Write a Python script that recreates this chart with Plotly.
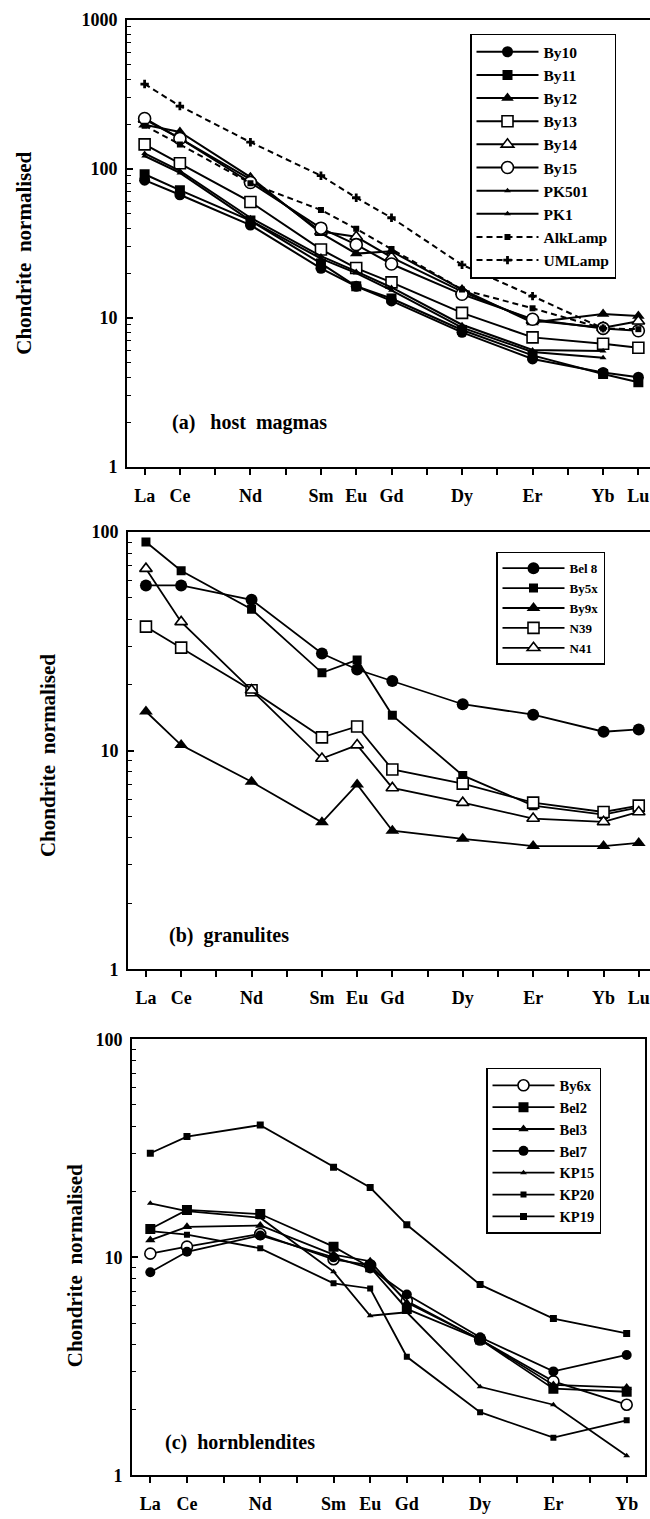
import plotly.graph_objects as go

# ---------------- data ----------------
REE_ALL = ["La", "Ce", "Pr", "Nd", "Pm", "Sm", "Eu", "Gd", "Tb", "Dy", "Ho", "Er", "Tm", "Yb", "Lu"]
ELEM_AB = ["La", "Ce", "Nd", "Sm", "Eu", "Gd", "Dy", "Er", "Yb", "Lu"]
ELEM_C = ["La", "Ce", "Nd", "Sm", "Eu", "Gd", "Dy", "Er", "Yb"]

# (a) host magmas
By10 = [84, 67, 42, 21.5, 16.3, 13.0, 8.0, 5.3, 4.3, 4.0]
By11 = [92, 72, 45, 23.2, 16.3, 13.5, 8.3, 5.6, 4.2, 3.7]
By12 = [198, 177, 88, 37, 27, 28, 15.5, 9.3, 10.6, 10.3]
By13 = [146, 109, 60, 28.8, 21.6, 17.3, 10.8, 7.4, 6.7, 6.3]
By14 = [215, 160, 85, 38, 35, 25.5, 15.0, 9.6, 8.6, 9.5]
By15 = [218, 160, 81, 40, 31, 23, 14.4, 9.8, 8.5, 8.2]
PK501 = [122, 94, 45, 25, 20, 15.3, 8.6, 5.9, 5.4, None]
PK1 = [127, 97, 47, 26, 20.5, 16.0, 9.0, 6.1, 6.0, None]
AlkLamp = [195, 146, 80, 53, 39.6, 29, 15.5, 11.6, 8.5, 8.4]
UMLamp = [371, 264, 151, 90, 64, 47, 22.7, 14.0, 8.5, None]

# (b) granulites
Bel8 = [57, 57, 49, 27.8, 23.5, 20.8, 16.3, 14.6, 12.2, 12.5]
By5x = [90, 66.5, 44.3, 22.7, 26, 14.5, 7.7, 5.6, 5.1, 5.5]
By9x = [15.1, 10.6, 7.2, 4.7, 7.0, 4.3, 3.95, 3.66, 3.66, 3.78]
N39 = [36.9, 29.6, 18.9, 11.5, 12.9, 8.2, 7.06, 5.78, 5.24, 5.6]
N41 = [68, 38.8, 18.9, 9.2, 10.6, 6.75, 5.78, 4.89, 4.72, 5.24]

# (c) hornblendites
By6x = [10.4, 11.2, 12.8, 9.8, 9.2, 6.3, 4.2, 2.7, 2.11]
Bel2 = [13.5, 16.5, 15.8, 11.2, 9.0, 5.8, 4.2, 2.5, 2.42]
Bel3 = [12.0, 13.8, 14.0, 10.3, 9.6, 6.2, 4.2, 2.6, 2.53]
Bel7 = [8.55, 10.6, 12.6, 10.0, 8.9, 6.75, 4.3, 3.0, 3.57]
KP15 = [17.7, 16.3, 15.2, 8.6, 5.4, 5.6, 2.55, 2.11, 1.23]
KP20 = [13.2, 12.7, 11.0, 7.6, 7.2, 3.5, 1.95, 1.49, 1.79]
KP19 = [30, 35.8, 40.4, 25.9, 20.9, 14.1, 7.5, 5.24, 4.48]

PANEL_A = [("By10", By10), ("By11", By11), ("By12", By12), ("By13", By13), ("By14", By14),
           ("By15", By15), ("PK501", PK501), ("PK1", PK1), ("AlkLamp", AlkLamp), ("UMLamp", UMLamp)]
PANEL_B = [("Bel 8", Bel8), ("By5x", By5x), ("By9x", By9x), ("N39", N39), ("N41", N41)]
PANEL_C = [("By6x", By6x), ("Bel2", Bel2), ("Bel3", Bel3), ("Bel7", Bel7),
           ("KP15", KP15), ("KP20", KP20), ("KP19", KP19)]

# ---------------- styles ----------------
FONT = "Liberation Serif"
W, H = 650, 1519

# symbol, size, filled, dash
STYLE = {
    "By10": ("circle", 11, True, "solid"),
    "By11": ("square", 10, True, "solid"),
    "By12": ("triangle-up", 11, True, "solid"),
    "By13": ("square", 11, False, "solid"),
    "By14": ("triangle-up", 11, False, "solid"),
    "By15": ("circle", 12, False, "solid"),
    "PK501": ("triangle-up", 6, True, "solid"),
    "PK1": ("triangle-up", 6, True, "solid"),
    "AlkLamp": ("square", 6, True, "6px,4px"),
    "UMLamp": ("cross", 7, True, "6px,4px"),
    "Bel 8": ("circle", 12, True, "solid"),
    "By5x": ("square", 9, True, "solid"),
    "By9x": ("triangle-up", 12, True, "solid"),
    "N39": ("square", 11, False, "solid"),
    "N41": ("triangle-up", 11, False, "solid"),
    "By6x": ("circle", 11, False, "solid"),
    "Bel2": ("square", 10, True, "solid"),
    "Bel3": ("triangle-up", 9, True, "solid"),
    "Bel7": ("circle", 10, True, "solid"),
    "KP15": ("triangle-up", 6, True, "solid"),
    "KP20": ("square", 6, True, "solid"),
    "KP19": ("square", 7, True, "solid"),
}


def xpos(elems):
    return [REE_ALL.index(e) for e in elems]


fig = go.Figure()


def add_panel(series, elems, xa, ya, leg, lw):
    for name, vals in series:
        sym, size, filled, dash = STYLE[name]
        fig.add_trace(go.Scatter(
            x=xpos(elems), y=vals, name=name, mode="lines+markers",
            xaxis=xa, yaxis=ya, legend=leg, connectgaps=False,
            line=dict(color="black", width=lw, dash=dash),
            marker=dict(symbol=sym, size=size,
                        color="black" if filled else "white",
                        line=dict(color="black", width=1.6 if not filled else 0)),
        ))


add_panel(PANEL_A, ELEM_AB, "x", "y", "legend", 2)
add_panel(PANEL_B, ELEM_AB, "x2", "y2", "legend2", 1.8)
add_panel(PANEL_C, ELEM_C, "x3", "y3", "legend3", 1.8)


def py(px):
    return 1 - px / H


def xaxis_cfg(dom, rng, elems, anchor, mirror):
    return dict(
        domain=dom, range=rng, anchor=anchor,
        tickmode="array", tickvals=list(range(len(REE_ALL))),
        ticktext=[e if e in elems else "" for e in REE_ALL],
        ticks="outside", ticklen=6, tickwidth=1.5, tickcolor="black",
        showline=True, linewidth=2, linecolor="black", mirror=mirror,
        showgrid=False, zeroline=False, ticklabelstandoff=5,
        tickfont=dict(family=FONT, size=18, color="black", weight="bold"),
    )


def yaxis_cfg(dom, rng, anchor, mirror):
    return dict(
        type="log", domain=dom, range=rng, anchor=anchor,
        tickmode="linear", tick0=0, dtick=1, exponentformat="none",
        ticks="inside", ticklen=6, tickwidth=1.5, tickcolor="black",
        minor=dict(ticks="inside", ticklen=4, tickwidth=1.2, tickcolor="black",
                   dtick="D1", showgrid=False),
        showline=True, linewidth=2, linecolor="black", mirror=mirror,
        showgrid=False, zeroline=False, ticklabelstandoff=4,
        tickfont=dict(family=FONT, size=18, color="black", weight="bold"),
    )


legend_common = dict(
    xanchor="left", yanchor="top", bgcolor="white",
    bordercolor="black", borderwidth=1.5, itemwidth=62, tracegroupgap=0,
)

fig.update_layout(
    width=W, height=H, margin=dict(l=0, r=0, t=0, b=0),
    paper_bgcolor="white", plot_bgcolor="white",
    xaxis=xaxis_cfg([127 / W, 1], [-0.5, 14.33], ELEM_AB, "y", True),
    yaxis=yaxis_cfg([py(463), py(10)], [0, 3], "x", False),
    xaxis2=xaxis_cfg([128 / W, 1], [-0.51, 14.32], ELEM_AB, "y2", True),
    yaxis2=yaxis_cfg([py(972), py(529)], [0, 2], "x2", False),
    xaxis3=xaxis_cfg([132 / W, 645 / W], [-0.5, 13.5], ELEM_C, "y3", True),
    yaxis3=yaxis_cfg([py(1485), py(1043)], [0, 2], "x3", True),
    legend=dict(x=470 / W, y=py(24), entrywidth=80,
                font=dict(family=FONT, size=15.5, color="black", weight="bold"), **legend_common),
    legend2=dict(x=496 / W, y=py(549), entrywidth=62,
                 font=dict(family=FONT, size=13, color="black", weight="bold"), **legend_common),
    legend3=dict(x=486 / W, y=py(1072), entrywidth=50,
                 font=dict(family=FONT, size=14.5, color="black", weight="bold"), **legend_common),
    showlegend=True,
)

ann_font = dict(family=FONT, size=20, color="black", weight="bold")
for txt, xpx, ypx in [("(a)\u00a0\u00a0\u00a0host\u00a0 magmas", 170, 418),
                      ("(b)\u00a0\u00a0granulites", 167, 938),
                      ("(c)\u00a0\u00a0hornblendites", 163, 1452)]:
    fig.add_annotation(text=txt, xref="paper", yref="paper", x=xpx / W, y=py(ypx),
                       xanchor="left", yanchor="middle", showarrow=False, font=ann_font)

title_font = dict(family=FONT, size=21, color="black", weight="bold")
for xpx, ypx in [(24, 247), (48, 756), (75, 1273)]:
    fig.add_annotation(text="Chondrite\u00a0\u00a0normalised", xref="paper", yref="paper",
                       x=xpx / W, y=py(ypx), xanchor="center", yanchor="middle",
                       textangle=-90, showarrow=False, font=title_font)

fig.write_html("out.html")
